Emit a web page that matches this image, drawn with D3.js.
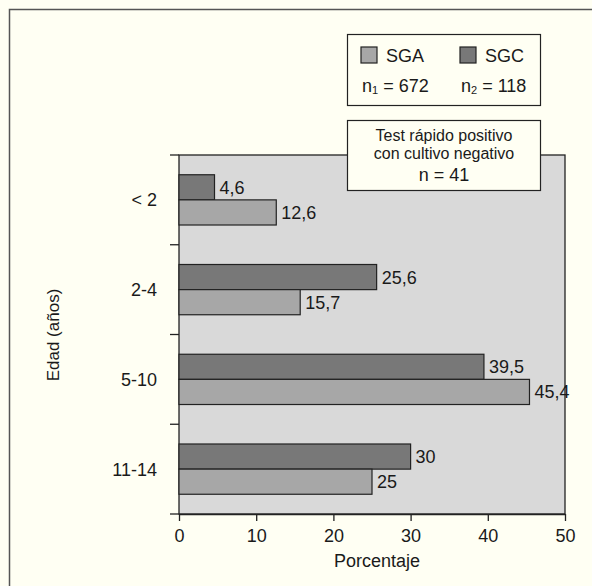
<!DOCTYPE html>
<html>
<head>
<meta charset="utf-8">
<script src="https://cdn.jsdelivr.net/npm/d3@7"></script>
<style>
  body { margin: 0; background: #fffff3; }
  svg { display: block; font-family: "Liberation Sans", Arial, sans-serif; }
</style>
</head>
<body>
<svg width="592" height="586"></svg>
<script>
var width = 592;
var height = 586;
var margin = {left: 179, right: 27, top: 155, bottom: 72};

// data
var ageGroups = ["< 2", "2-4", "5-10", "11-14"];
var sgcValues = [4.6, 25.6, 39.5, 30];
var sgaValues = [12.6, 15.7, 45.4, 25];
var sgcLabels = ["4,6", "25,6", "39,5", "30"];
var sgaLabels = ["12,6", "15,7", "45,4", "25"];
var xTicks = [0, 10, 20, 30, 40, 50];
var seriesNames = ["SGA", "SGC"];
var seriesColors = ["#a7a7a7", "#787878"];

var svg = d3.select("svg");

// outer frame (cut at the right and bottom edges)
svg.append("rect")
  .attr("x", 9.5).attr("y", 9.5)
  .attr("width", 620).attr("height", 620)
  .attr("fill", "#fffff3")
  .attr("stroke", "#555")
  .attr("stroke-width", 1.5);

var x = d3.scaleLinear().domain([0, 50]).range([margin.left, width - margin.right]);
var y = d3.scaleBand().domain(ageGroups).range([margin.top, height - margin.bottom]).paddingInner(0.44).paddingOuter(0.22);
var band = d3.scaleBand().domain(["SGC", "SGA"]).range([0, y.bandwidth()]);

// plot background
svg.append("rect")
  .attr("x", x(0)).attr("y", margin.top)
  .attr("width", x(50) - x(0)).attr("height", height - margin.bottom - margin.top)
  .attr("fill", "#d9d9d9")
  .attr("stroke", "#222")
  .attr("stroke-width", 1.3);

var rows = ageGroups.map(function (g, i) {
  return [
    {group: g, key: "SGC", value: sgcValues[i], label: sgcLabels[i], color: seriesColors[1]},
    {group: g, key: "SGA", value: sgaValues[i], label: sgaLabels[i], color: seriesColors[0]}
  ];
}).flat();

svg.selectAll("rect.bar")
  .data(rows)
  .enter()
  .append("rect")
  .attr("class", "bar")
  .attr("x", x(0))
  .attr("y", function (d) { return y(d.group) + band(d.key); })
  .attr("width", function (d) { return x(d.value) - x(0); })
  .attr("height", band.bandwidth())
  .attr("fill", function (d) { return d.color; })
  .attr("stroke", "#222")
  .attr("stroke-width", 1.2);

svg.selectAll("text.val")
  .data(rows)
  .enter()
  .append("text")
  .attr("class", "val")
  .attr("x", function (d) { return x(d.value) + 5; })
  .attr("y", function (d) { return y(d.group) + band(d.key) + band.bandwidth() / 2; })
  .attr("dy", "0.36em")
  .style("font-size", "18px")
  .attr("fill", "#1a1a1a")
  .text(function (d) { return d.label; });

// x axis
var axisBottom = d3.axisBottom(x).tickValues(xTicks).tickSize(7).tickSizeOuter(0).tickPadding(8);
var gx = svg.append("g")
  .attr("transform", "translate(0," + (height - margin.bottom) + ")")
  .call(axisBottom);
gx.select(".domain").attr("stroke", "#222").attr("stroke-width", 1.3);
gx.selectAll(".tick line").attr("stroke", "#222").attr("stroke-width", 1.3);
gx.selectAll(".tick text").style("font-size", "18px").attr("fill", "#1a1a1a")
  .style("font-family", "'Liberation Sans', Arial, sans-serif");

// y axis: ticks on band boundaries
var boundaries = ageGroups.map(function (g, i) { return i === 0 ? margin.top : y(g) - y.step() * y.paddingInner() / 2; });
boundaries.push(height - margin.bottom);
svg.selectAll("line.ytick")
  .data(boundaries)
  .enter()
  .append("line")
  .attr("class", "ytick")
  .attr("x1", x(0) - 9).attr("x2", x(0))
  .attr("y1", function (d) { return d; }).attr("y2", function (d) { return d; })
  .attr("stroke", "#222").attr("stroke-width", 1.3);

svg.selectAll("text.cat")
  .data(ageGroups)
  .enter()
  .append("text")
  .attr("class", "cat")
  .attr("x", 157)
  .attr("y", function (d) { return y(d) + y.bandwidth() / 2; })
  .attr("dy", "0.36em")
  .attr("text-anchor", "end")
  .style("font-size", "18px")
  .attr("fill", "#1a1a1a")
  .text(function (d) { return d; });

// axis titles
svg.append("text")
  .attr("x", 377).attr("y", 567)
  .attr("text-anchor", "middle")
  .style("font-size", "18px").attr("fill", "#1a1a1a")
  .text("Porcentaje");

svg.append("text")
  .attr("transform", "translate(59," + 335 + ") rotate(-90)")
  .attr("text-anchor", "middle")
  .style("font-size", "17px").attr("fill", "#1a1a1a")
  .text("Edad (años)");

// legend box
var legend = svg.append("g");
legend.append("rect")
  .attr("x", 347.5).attr("y", 34.5).attr("width", 193).attr("height", 71)
  .attr("fill", "#fffff3").attr("stroke", "#222").attr("stroke-width", 1.2);

var legendX = [361, 460];
seriesNames.forEach(function (name, i) {
  legend.append("rect")
    .attr("x", legendX[i]).attr("y", 47).attr("width", 16).attr("height", 16)
    .attr("fill", seriesColors[i]).attr("stroke", "#222").attr("stroke-width", 1.2);
  legend.append("text")
    .attr("x", legendX[i] + 25).attr("y", 62)
    .style("font-size", "18px").attr("fill", "#1a1a1a")
    .text(name);
});

var nValues = [["1", "672"], ["2", "118"]];
nValues.forEach(function (n, i) {
  var t = legend.append("text")
    .attr("x", legendX[i] + 1).attr("y", 92)
    .style("font-size", "18px").attr("fill", "#1a1a1a");
  t.append("tspan").text("n");
  t.append("tspan").style("font-size", "11px").attr("dy", 2).text(n[0]);
  t.append("tspan").attr("dy", -2).text(" = " + n[1]);
});

// note box
var note = svg.append("g");
note.append("rect")
  .attr("x", 347.5).attr("y", 120.5).attr("width", 193).attr("height", 70)
  .attr("fill", "#fffff3").attr("stroke", "#222").attr("stroke-width", 1.2);
var noteLines = ["Test rápido positivo", "con cultivo negativo", "n = 41"];
note.selectAll("text")
  .data(noteLines)
  .enter()
  .append("text")
  .attr("x", 444)
  .attr("y", function (d, i) { return [141, 159, 181][i]; })
  .attr("text-anchor", "middle")
  .style("font-size", function (d, i) { return i === 2 ? "18px" : "16px"; })
  .attr("fill", "#1a1a1a")
  .text(function (d) { return d; });
</script>
</body>
</html>
